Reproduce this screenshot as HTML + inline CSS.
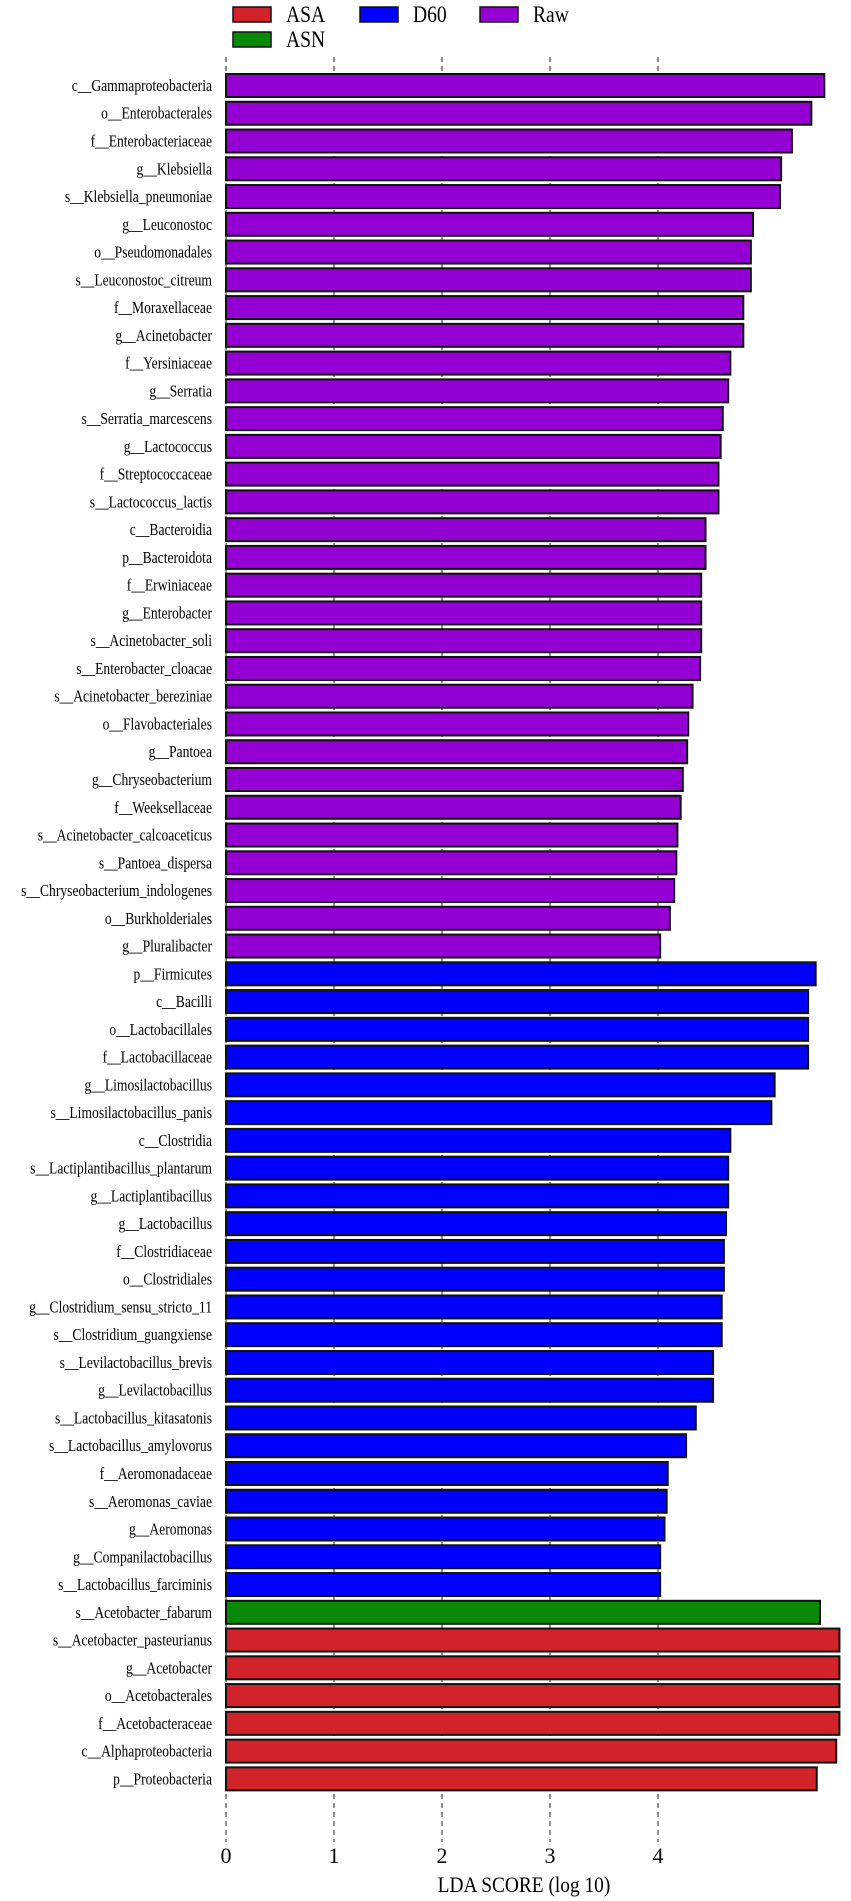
<!DOCTYPE html>
<html><head><meta charset="utf-8"><style>
html,body{margin:0;padding:0;background:#fff;}
svg{display:block;}
text{font-family:"Liberation Serif",serif;fill:#000;}
</style></head><body>
<svg id="chart" width="851" height="1901">
<g id="legend"></g>
<g id="grid"></g>
<g id="bars"></g>
<g id="labels"></g>
<g id="xaxis"></g>
</svg>
<script>
const categories = ["c__Gammaproteobacteria","o__Enterobacterales","f__Enterobacteriaceae","g__Klebsiella","s__Klebsiella_pneumoniae","g__Leuconostoc","o__Pseudomonadales","s__Leuconostoc_citreum","f__Moraxellaceae","g__Acinetobacter","f__Yersiniaceae","g__Serratia","s__Serratia_marcescens","g__Lactococcus","f__Streptococcaceae","s__Lactococcus_lactis","c__Bacteroidia","p__Bacteroidota","f__Erwiniaceae","g__Enterobacter","s__Acinetobacter_soli","s__Enterobacter_cloacae","s__Acinetobacter_bereziniae","o__Flavobacteriales","g__Pantoea","g__Chryseobacterium","f__Weeksellaceae","s__Acinetobacter_calcoaceticus","s__Pantoea_dispersa","s__Chryseobacterium_indologenes","o__Burkholderiales","g__Pluralibacter",
"p__Firmicutes","c__Bacilli","o__Lactobacillales","f__Lactobacillaceae","g__Limosilactobacillus","s__Limosilactobacillus_panis","c__Clostridia","s__Lactiplantibacillus_plantarum","g__Lactiplantibacillus","g__Lactobacillus","f__Clostridiaceae","o__Clostridiales","g__Clostridium_sensu_stricto_11","s__Clostridium_guangxiense","s__Levilactobacillus_brevis","g__Levilactobacillus","s__Lactobacillus_kitasatonis","s__Lactobacillus_amylovorus","f__Aeromonadaceae","s__Aeromonas_caviae","g__Aeromonas","g__Companilactobacillus","s__Lactobacillus_farciminis",
"s__Acetobacter_fabarum",
"s__Acetobacter_pasteurianus","g__Acetobacter","o__Acetobacterales","f__Acetobacteraceae","c__Alphaproteobacteria","p__Proteobacteria"];
const values = [5.54,5.42,5.24,5.14,5.13,4.88,4.86,4.86,4.79,4.79,4.67,4.65,4.60,4.58,4.56,4.56,4.44,4.44,4.40,4.40,4.40,4.39,4.32,4.28,4.27,4.23,4.21,4.18,4.17,4.15,4.11,4.02,
5.46,5.39,5.39,5.39,5.08,5.05,4.67,4.65,4.65,4.63,4.61,4.61,4.59,4.59,4.51,4.51,4.35,4.26,4.09,4.08,4.06,4.02,4.02,
5.50,
5.68,5.68,5.68,5.68,5.65,5.47];
const groups = ["Raw","Raw","Raw","Raw","Raw","Raw","Raw","Raw","Raw","Raw","Raw","Raw","Raw","Raw","Raw","Raw","Raw","Raw","Raw","Raw","Raw","Raw","Raw","Raw","Raw","Raw","Raw","Raw","Raw","Raw","Raw","Raw",
"D60","D60","D60","D60","D60","D60","D60","D60","D60","D60","D60","D60","D60","D60","D60","D60","D60","D60","D60","D60","D60","D60","D60",
"ASN",
"ASA","ASA","ASA","ASA","ASA","ASA"];
const legendNames = ["ASA","D60","Raw","ASN"];
const tickValues = [0,1,2,3,4];
const colors = {ASA:"#d2232a",D60:"#0000ff",Raw:"#9400d3",ASN:"#088a08"};

const NS="http://www.w3.org/2000/svg";
const X0=226, UNIT=108, Y0=74, PITCH=27.76, BH=23;
const x = v => X0 + v*UNIT;
const y = i => Y0 + i*PITCH;
function mk(tag, attrs, parent){const e=document.createElementNS(NS,tag);for(const k in attrs)e.setAttribute(k,attrs[k]);parent.appendChild(e);return e;}

const lpos=[[233,7],[360,7],[480,7],[233,32]];
legendNames.forEach((n,i)=>{
  const g=mk('g',{},document.getElementById('legend'));
  
  
  mk('rect',{x:lpos[i][0],y:lpos[i][1],width:38,height:15,fill:colors[n],stroke:'#111','stroke-width':1.5},g);
  const t=mk('text',{x:lpos[i][0]+53,y:lpos[i][1]+15,'font-size':23,transform:`translate(${lpos[i][0]+53},0) scale(0.85,1) translate(${-(lpos[i][0]+53)},0)`},g);
  t.textContent=n;
});

const grid=document.getElementById('grid'), xa=document.getElementById('xaxis');
tickValues.forEach(v=>{
  const l=mk('line',{x1:x(v),x2:x(v),y1:57,y2:1842,stroke:'#222','stroke-width':1,'stroke-dasharray':'5,4'},grid);
  
  
  const t=mk('text',{x:x(v),y:1863,'font-size':22,'text-anchor':'middle'},xa);
  
  
  t.textContent=v;
});
const tcx=x(3)-26;
const title=mk('text',{x:tcx,y:1892,'font-size':22,'text-anchor':'middle',transform:`translate(${tcx},0) scale(0.88,1) translate(${-tcx},0)`},xa);


title.textContent='LDA SCORE (log 10)';

const bars=document.getElementById('bars'), labs=document.getElementById('labels');
categories.forEach((c,i)=>{
  const r=mk('rect',{x:X0,y:y(i),width:x(values[i])-X0,height:BH,fill:colors[groups[i]],stroke:'#111','stroke-width':2},bars);
  
  
  const tx=212;
  const t=mk('text',{x:tx,y:y(i)+17,'font-size':17,'text-anchor':'end',transform:`translate(${tx},0) scale(0.8,1) translate(${-tx},0)`},labs);
  
  
  t.textContent=c;
});
</script>
</body></html>
